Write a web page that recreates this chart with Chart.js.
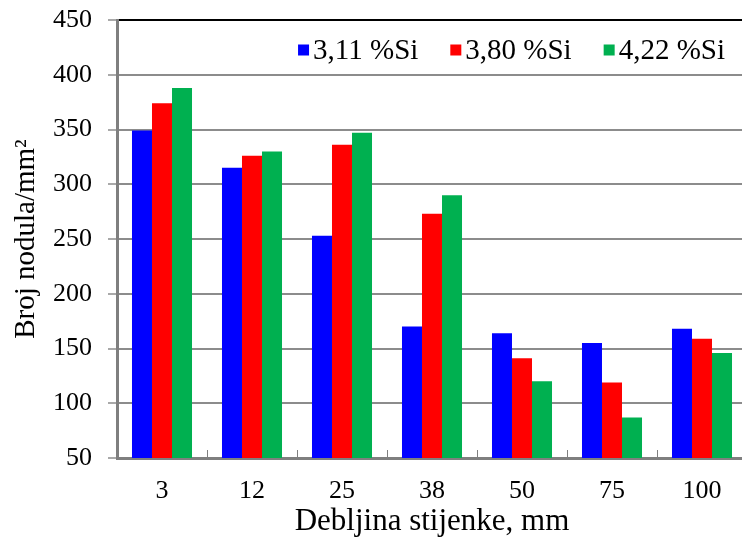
<!DOCTYPE html>
<html>
<head>
<meta charset="utf-8">
<script src="https://cdn.jsdelivr.net/npm/chart.js@4.4.0/dist/chart.umd.min.js"></script>
<style>
html,body{margin:0;padding:0;background:#fff;overflow:hidden;}
#wrap{width:748px;height:544px;}
</style>
</head>
<body>
<div id="wrap"><canvas id="c" width="748" height="544"></canvas></div>
<script>
const categories = ['3', '12', '25', '38', '50', '75', '100'];
const seriesLabels = ['3,11 %Si', '3,80 %Si', '4,22 %Si'];
const si311 = [349, 315, 253, 170, 164, 155, 168];
const si380 = [374, 326, 336, 273, 141, 119, 159];
const si422 = [388, 330, 347, 290, 120, 87, 146];
const seriesColors = ['#0000FF', '#FF0000', '#00B050'];
const yTitle = 'Broj nodula/mm²';
const xTitle = 'Debljina stijenke, mm';

const FONT = '"Liberation Serif", "Times New Roman", serif';

const legendPlugin = {
  id: 'customLegend',
  afterDatasetsDraw(chart) {
    const ctx = chart.ctx;
    ctx.save();
    ctx.font = '29px ' + FONT;
    ctx.textBaseline = 'middle';
    ctx.textAlign = 'left';
    const y = 50;
    const sq = 11, gap = 4, itemGap = 32;
    let x = 725;
    const ds = chart.data.datasets;
    for (let i = ds.length - 1; i >= 0; i--) {
      const w = ctx.measureText(ds[i].label).width;
      const tx = x - w;
      ctx.fillStyle = '#000';
      ctx.fillText(ds[i].label, tx, y + 1);
      ctx.fillStyle = ds[i].backgroundColor;
      ctx.fillRect(tx - gap - sq, y - sq / 2, sq, sq);
      x = tx - gap - sq - itemGap;
    }
    ctx.restore();
  }
};

const xTickPlugin = {
  id: 'xInnerTicks',
  afterDatasetsDraw(chart) {
    const ctx = chart.ctx;
    const xs = chart.scales.x;
    const bottom = chart.chartArea.bottom;
    ctx.save();
    ctx.strokeStyle = '#7f7f7f';
    ctx.lineWidth = 1;
    for (let i = 1; i < categories.length; i++) {
      const px = Math.round((xs.getPixelForValue(i - 1) + xs.getPixelForValue(i)) / 2) + 0.5;
      ctx.beginPath();
      ctx.moveTo(px, bottom);
      ctx.lineTo(px, bottom - 8);
      ctx.stroke();
    }
    ctx.restore();
  }
};

new Chart(document.getElementById('c'), {
  type: 'bar',
  data: {
    labels: categories,
    datasets: [
      { label: seriesLabels[0], data: si311, backgroundColor: seriesColors[0] },
      { label: seriesLabels[1], data: si380, backgroundColor: seriesColors[1] },
      { label: seriesLabels[2], data: si422, backgroundColor: seriesColors[2] }
    ]
  },
  options: {
    responsive: false,
    animation: false,
    devicePixelRatio: 1,
    layout: { padding: { top: 20, right: 1, left: 0, bottom: 0 } },
    datasets: { bar: { barPercentage: 1, categoryPercentage: 0.667, borderWidth: 0 } },
    plugins: { legend: { display: false }, tooltip: { enabled: false } },
    scales: {
      x: {
        grid: { display: false, drawTicks: false },
        border: { display: true, color: '#7f7f7f', width: 3 },
        ticks: { color: '#000', font: { family: FONT, size: 26 }, padding: 18 },
        title: { display: true, text: xTitle, color: '#000', font: { family: FONT, size: 31 }, padding: { top: 0, bottom: 4 } },
        afterFit(s) { s.height = 86; s.paddingLeft = 0; s.paddingRight = 0; }
      },
      y: {
        min: 50, max: 450,
        ticks: { stepSize: 50, color: '#000', font: { family: FONT, size: 26 }, padding: 16 },
        grid: {
          color: (c) => (c.tick && c.tick.value === 450 ? '#000' : '#8c8c8c'),
          lineWidth: 2,
          tickLength: 9,
          tickColor: '#8c8c8c',
          tickWidth: 1.5
        },
        border: { display: true, color: '#7f7f7f', width: 3 },
        title: { display: true, text: yTitle, color: '#000', font: { family: FONT, size: 29 }, padding: { top: 9, bottom: 0 } },
        afterFit(s) { s.width = 117; s.paddingTop = 0; s.paddingBottom = 0; }
      }
    }
  },
  plugins: [legendPlugin, xTickPlugin]
});
</script>
</body>
</html>
